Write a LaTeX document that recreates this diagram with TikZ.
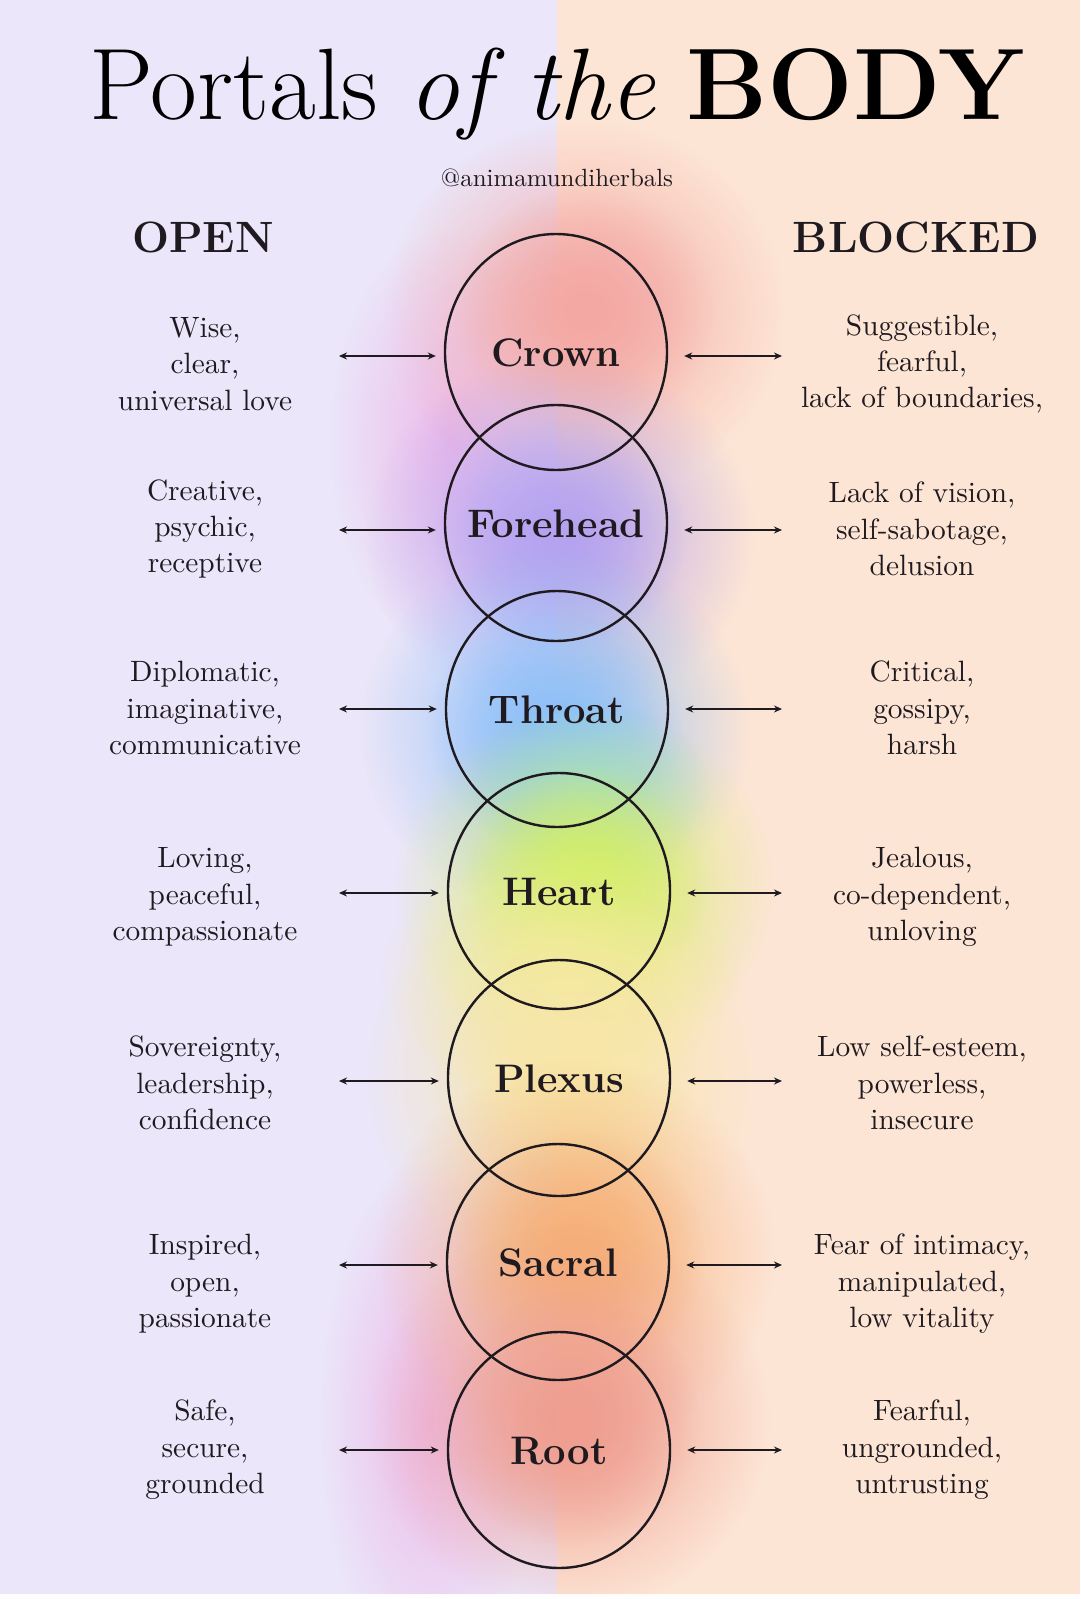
\documentclass[tikz,border=0pt]{standalone}
\usepackage{fontspec}
\usepackage{tikz}
\usetikzlibrary{arrows.meta,shapes.geometric,fadings}
\newfontfamily\sidefont{lmroman10-regular.otf}
\definecolor{ink}{HTML}{1F1A1F}
\definecolor{lavbg}{HTML}{EBE6F9}
\definecolor{peachbg}{HTML}{FDE5D5}
\definecolor{hzcrown}{HTML}{F4A8A4}
\definecolor{hzpink}{HTML}{EEBAEA}
\definecolor{hzforehead}{HTML}{B5A3F0}
\definecolor{hzthroat}{HTML}{8EC0F8}
\definecolor{hzcyan}{HTML}{8ED4F2}
\definecolor{hzheart}{HTML}{D2EE68}
\definecolor{hzyellow}{HTML}{F2EE96}
\definecolor{hzplexus}{HTML}{F8E6A8}
\definecolor{hzsacral}{HTML}{F6B078}
\definecolor{hzroot}{HTML}{EF9E90}
\tikzfading[name=softglow,inner color=transparent!0,outer color=transparent!100]
\tikzset{portal/.style={ellipse,draw=ink,line width=2.4bp,minimum width=222bp,minimum height=236bp,inner sep=0pt},
  portalname/.style={font=\fontsize{40}{40}\selectfont\bfseries,text=ink,text height=28bp,text depth=0bp,inner sep=0pt},
  sidetxt/.style={align=center,text=ink,font=\sidefont\fontsize{29.5}{36.5}\selectfont},
  headtxt/.style={anchor=base,text=ink,font=\fontsize{44}{44}\selectfont\bfseries},
  twoway/.style={{Stealth[length=8bp,width=7bp]}-{Stealth[length=8bp,width=7bp]},line width=1.8bp,draw=ink},
  haze/.style={path fading=softglow}}
% two stacked glows: a wide soft one and a tighter core
\newcommand{\portalglow}[4]{\fill[#1,haze] (#2) ellipse (#3 and #4); \fill[#1,haze] (#2) ellipse ({0.65*#3} and {0.65*#4});}

\begin{document}
\begin{tikzpicture}[x=1bp,y=-1bp,line join=round]
\useasboundingbox (0,0) rectangle (1080,1599);
% --- background halves
\fill[lavbg] (0,0) rectangle (557,1599); \fill[peachbg] (557,0) rectangle (1080,1599);
% --- colour haze behind the portals
\fill[hzpink,haze] (450,440) ellipse (120 and 210); \fill[hzpink,haze] (430,1420) ellipse (110 and 260);
\portalglow{hzcrown}{585,310}{200}{190}
\portalglow{hzforehead}{560,535}{195}{180}
\portalglow{hzthroat}{555,730}{195}{185} \fill[hzcyan,haze] (590,790) ellipse (120 and 90);
\portalglow{hzheart}{585,885}{190}{180} \fill[hzyellow,haze] (560,975) ellipse (180 and 130);
\portalglow{hzplexus}{565,1075}{200}{195}
\portalglow{hzsacral}{575,1255}{200}{195}
\portalglow{hzroot}{570,1420}{200}{195}
\fill[white!96!lavbg] (0,1594) rectangle (1080,1599);
% --- title
\node[anchor=base,text=black,font=\fontsize{102}{104}\selectfont] (title) at (557,120) {Portals \textit{of the} \textbf{BODY}};
\node[text=ink,font=\sidefont\fontsize{25}{25}\selectfont] (handle) at (557,178) {@animamundiherbals};
\node[headtxt] (openhd) at (203,252) {OPEN}; \node[headtxt] (blockhd) at (916,252) {BLOCKED};
% --- the seven portals
\node[portal] (crown) at (556,352) {}; \node[portalname] (crownlbl) at (crown) {Crown};
\node[portal] (forehead) at (556,523) {}; \node[portalname] (foreheadlbl) at (forehead) {Forehead};
\node[portal] (throat) at (557,709) {}; \node[portalname] (throatlbl) at (throat) {Throat};
\node[portal] (heart) at (559,891) {}; \node[portalname] (heartlbl) at (heart) {Heart};
\node[portal] (plexus) at (559,1078) {}; \node[portalname] (plexuslbl) at (plexus) {Plexus};
\node[portal] (sacral) at (558,1262) {}; \node[portalname] (sacrallbl) at (sacral) {Sacral};
\node[portal] (root) at (559,1450) {}; \node[portalname] (rootlbl) at (root) {Root};
% --- arrows, open side and blocked side
\coordinate (ol1) at (339,356); \coordinate (br1) at (782,356);
\coordinate (ol2) at (339,530); \coordinate (br2) at (782,530);
\coordinate (ol3) at (339,709); \coordinate (br3) at (782,709);
\coordinate (ol4) at (339,893); \coordinate (br4) at (782,893);
\coordinate (ol5) at (339,1081); \coordinate (br5) at (782,1081);
\coordinate (ol6) at (339,1265); \coordinate (br6) at (782,1265);
\coordinate (ol7) at (339,1450); \coordinate (br7) at (782,1450);
\draw[twoway,shorten >=8bp] (ol1) -- (ol1 -| crown.west); \draw[twoway,shorten <=16bp] (ol1 -| crown.east) -- (br1);
\draw[twoway,shorten >=8bp] (ol2) -- (ol2 -| forehead.west); \draw[twoway,shorten <=16bp] (ol2 -| forehead.east) -- (br2);
\draw[twoway,shorten >=8bp] (ol3) -- (ol3 -| throat.west); \draw[twoway,shorten <=16bp] (ol3 -| throat.east) -- (br3);
\draw[twoway,shorten >=8bp] (ol4) -- (ol4 -| heart.west); \draw[twoway,shorten <=16bp] (ol4 -| heart.east) -- (br4);
\draw[twoway,shorten >=8bp] (ol5) -- (ol5 -| plexus.west); \draw[twoway,shorten <=16bp] (ol5 -| plexus.east) -- (br5);
\draw[twoway,shorten >=8bp] (ol6) -- (ol6 -| sacral.west); \draw[twoway,shorten <=16bp] (ol6 -| sacral.east) -- (br6);
\draw[twoway,shorten >=8bp] (ol7) -- (ol7 -| root.west); \draw[twoway,shorten <=16bp] (ol7 -| root.east) -- (br7);
% --- what each portal gives when open / when blocked
\node[sidetxt] (open1) at (205,364) {Wise,\\clear,\\universal love};
\node[sidetxt] (open2) at (205,529) {Creative,\\psychic,\\receptive};
\node[sidetxt] (open3) at (205,708) {Diplomatic,\\imaginative,\\communicative};
\node[sidetxt] (open4) at (205,897) {Loving,\\peaceful,\\compassionate};
\node[sidetxt] (open5) at (205,1083) {Sovereignty,\\leadership,\\confidence};
\node[sidetxt] (open6) at (205,1284) {Inspired,\\open,\\passionate};
\node[sidetxt] (open7) at (205,1450) {Safe,\\secure,\\grounded};
\node[sidetxt] (block1) at (922,364) {Suggestible,\\fearful,\\lack of boundaries,};
\node[sidetxt] (block2) at (922,529) {Lack of vision,\\self-sabotage,\\delusion};
\node[sidetxt] (block3) at (922,708) {Critical,\\gossipy,\\harsh};
\node[sidetxt] (block4) at (922,897) {Jealous,\\co-dependent,\\unloving};
\node[sidetxt] (block5) at (922,1083) {Low self-esteem,\\powerless,\\insecure};
\node[sidetxt] (block6) at (922,1284) {Fear of intimacy,\\manipulated,\\low vitality};
\node[sidetxt] (block7) at (922,1450) {Fearful,\\ungrounded,\\untrusting};
\end{tikzpicture}
\end{document}
